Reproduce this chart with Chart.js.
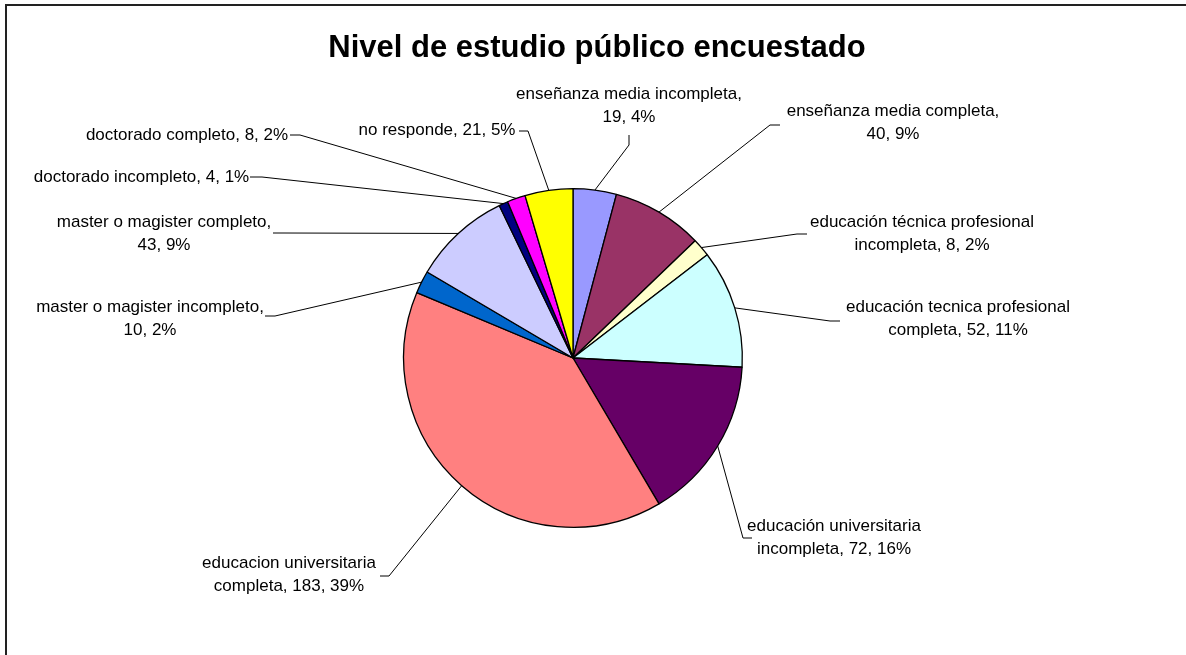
<!DOCTYPE html>
<html>
<head>
<meta charset="utf-8">
<script src="https://cdn.jsdelivr.net/npm/chart.js@4"></script>
<style>
  body { margin: 0; background: #fff; }
</style>
</head>
<body>
<canvas id="pie" width="1186" height="655"></canvas>
<script>
// data
const categories = [
  "enseñanza media incompleta",
  "enseñanza media completa",
  "educación técnica profesional incompleta",
  "educación tecnica profesional completa",
  "educación universitaria incompleta",
  "educacion universitaria completa",
  "master o magister incompleto",
  "master o magister completo",
  "doctorado incompleto",
  "doctorado completo",
  "no responde"
];
const counts = [19, 40, 8, 52, 72, 183, 10, 43, 4, 8, 21];
const percents = [4, 9, 2, 11, 16, 39, 2, 9, 1, 2, 5];
const colors = ["#9999FF", "#993366", "#FFFFCC", "#CCFFFF", "#660066", "#FF8080",
                "#0066CC", "#CCCCFF", "#000080", "#FF00FF", "#FFFF00"];

// where each label sits, relative to the pie centre (text centre x, first line y,
// leader tail next to the text, leader elbow), and the wrap width
const labelLayout = [
  { dx: 56,     dy: -264, tail: [56, -223],   elbow: [56, -213],   wrap: 240 },
  { dx: 320,    dy: -247, tail: [207, -233],  elbow: [197, -233],  wrap: 225 },
  { dx: 349,    dy: -136, tail: [234, -124],  elbow: [224, -124],  wrap: 240 },
  { dx: 385,    dy: -51,  tail: [267, -37],   elbow: [257, -37],   wrap: 240 },
  { dx: 261,    dy: 168,  tail: [179, 180],   elbow: [170, 180],   wrap: 200 },
  { dx: -284,   dy: 205,  tail: [-193, 218],  elbow: [-184, 218],  wrap: 200 },
  { dx: -423,   dy: -51,  tail: [-308, -42],  elbow: [-298, -42],  wrap: 240 },
  { dx: -409,   dy: -136, tail: [-300, -125], elbow: [-290, -125], wrap: 230 },
  { dx: -431.5, dy: -181, tail: [-323, -181], elbow: [-311, -181], wrap: 400 },
  { dx: -386,   dy: -223, tail: [-283, -223], elbow: [-273, -223], wrap: 400 },
  { dx: -136,   dy: -228, tail: [-54, -227],  elbow: [-45, -227],  wrap: 400 }
];

const titleText = "Nivel de estudio público encuestado";
const labelFont = "17px 'Liberation Sans', Arial, sans-serif";
const lineHeight = 23;

function wrapText(ctx, text, maxWidth) {
  let words = text.split(" ");
  let lines = [];
  let cur = "";
  for (let w of words) {
    let test = cur ? cur + " " + w : w;
    if (cur && ctx.measureText(test).width > maxWidth) {
      lines.push(cur);
      cur = w;
    } else {
      cur = test;
    }
  }
  if (cur) lines.push(cur);
  return lines;
}

const excelLabels = {
  id: "excelLabels",
  afterDraw(chart) {
    const ctx = chart.ctx;
    ctx.save();

    // chart frame (only left and top edges show in the picture)
    ctx.strokeStyle = "#222";
    ctx.lineWidth = 2;
    ctx.strokeRect(6, 5, 2000, 2000);

    // title
    ctx.fillStyle = "#000";
    ctx.font = "bold 31px 'Liberation Sans', Arial, sans-serif";
    ctx.textAlign = "center";
    ctx.textBaseline = "alphabetic";
    ctx.fillText(titleText, 597, 57);

    const arcs = chart.getDatasetMeta(0).data;
    ctx.font = labelFont;
    ctx.textBaseline = "middle";
    ctx.lineWidth = 1;
    ctx.strokeStyle = "#000";

    arcs.forEach((arc, i) => {
      const p = arc.getProps(["x", "y", "startAngle", "endAngle", "outerRadius"], true);
      const mid = (p.startAngle + p.endAngle) / 2;
      const ax = p.x + Math.cos(mid) * p.outerRadius;
      const ay = p.y + Math.sin(mid) * p.outerRadius;
      const lay = labelLayout[i];

      // leader line
      ctx.beginPath();
      ctx.moveTo(p.x + lay.tail[0], p.y + lay.tail[1]);
      ctx.lineTo(p.x + lay.elbow[0], p.y + lay.elbow[1]);
      ctx.lineTo(ax, ay);
      ctx.stroke();

      // text
      const text = categories[i] + ", " + counts[i] + ", " + percents[i] + "%";
      const lines = wrapText(ctx, text, lay.wrap);
      lines.forEach((ln, k) => {
        ctx.fillText(ln, p.x + lay.dx, p.y + lay.dy + k * lineHeight);
      });
    });

    ctx.restore();
  }
};

new Chart(document.getElementById("pie").getContext("2d"), {
  type: "pie",
  data: {
    labels: categories,
    datasets: [{
      data: counts,
      backgroundColor: colors,
      borderColor: "#000",
      borderWidth: 1.3
    }]
  },
  options: {
    responsive: false,
    animation: false,
    events: [],
    layout: {
      padding: { top: 188, bottom: 127, left: 403, right: 443 }
    },
    plugins: {
      legend: { display: false },
      tooltip: { enabled: false },
      title: { display: false }
    }
  },
  plugins: [excelLabels]
});
</script>
</body>
</html>
